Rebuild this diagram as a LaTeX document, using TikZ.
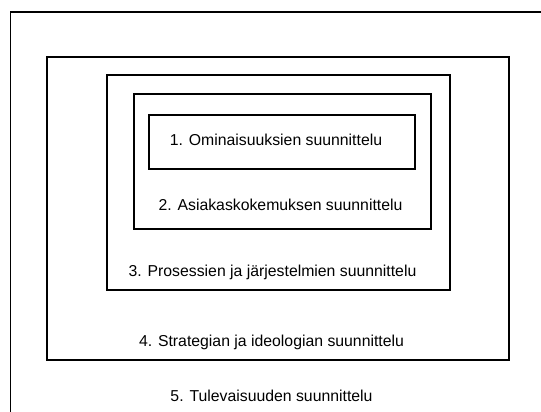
\documentclass[tikz,border=0pt]{standalone}
\usepackage{fontspec}
\setmainfont{Liberation Sans}
\begin{document}
\begin{tikzpicture}[x=1pt,y=-1pt,
  box/.style={draw=black, line width=1.5pt},
  lbl/.style={font=\fontsize{15.8}{18}\selectfont, inner sep=0pt, anchor=base}]
\useasboundingbox (0,0) rectangle (541,412);
\clip (0,0) rectangle (541,412);
\fill[white] (0,0) rectangle (541,412);
% boxes
\draw[box] (10.5,12) rectangle (600,460);
\draw[box] (47,57) rectangle (509,360);
\draw[box] (107,75) rectangle (450,290);
\draw[box] (134,94) rectangle (431,229);
\draw[box] (149,115) rectangle (415,169);
% labels
\node[lbl] (t1) at (276,145) {1. Ominaisuuksien suunnittelu};
\node[lbl] (t2) at (280.5,210) {2. Asiakaskokemuksen suunnittelu};
\node[lbl] (t3) at (272.5,276) {3. Prosessien ja järjestelmien suunnittelu};
\node[lbl] (t4) at (271.5,346) {4. Strategian ja ideologian suunnittelu};
\node[lbl] (t5) at (271.5,401) {5. Tulevaisuuden suunnittelu};
\end{tikzpicture}
\end{document}
